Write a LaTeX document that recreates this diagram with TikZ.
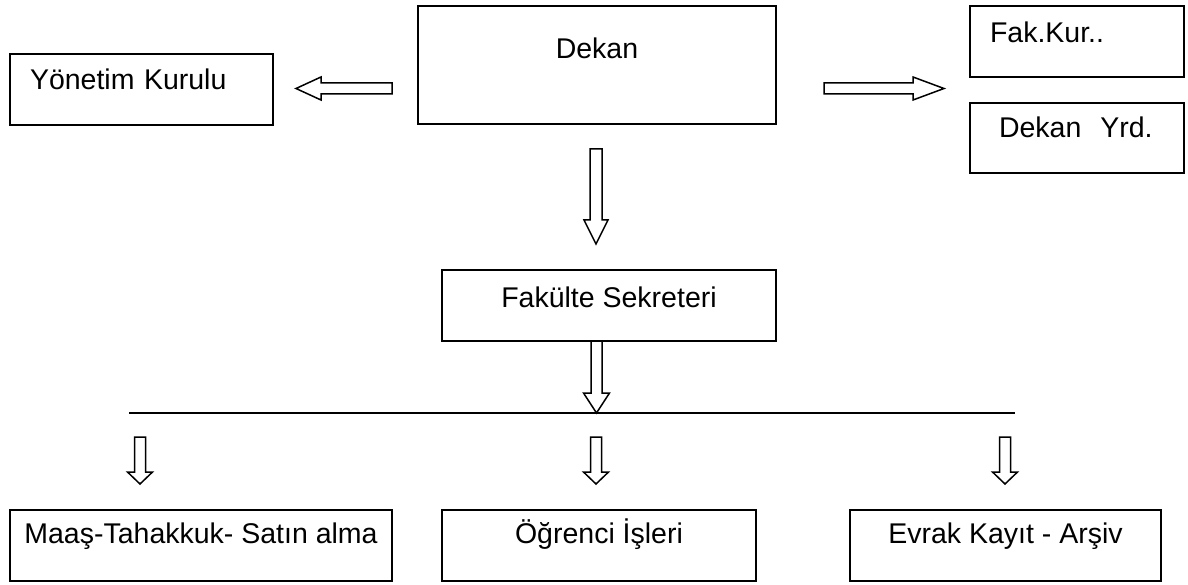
\documentclass[tikz,border=0pt]{standalone}
\usepackage{fontspec}
\setmainfont{Liberation Sans}
\usetikzlibrary{calc}
\newcommand{\myVArrow}[5]{\draw[blk] let \p1=(#1), \p2=(#2) in (\x1-#3,\y1) -- (\x1+#3,\y1) -- (\x1+#3,\y2+#5) -- (\x1+#4,\y2+#5) -- (\x1,\y2) -- (\x1-#4,\y2+#5) -- (\x1-#3,\y2+#5) -- cycle;}
\newcommand{\myHArrow}[5]{\draw[blk] let \p1=(#1), \p2=(#2) in (\x1,\y1+#3) -- (\x2#5,\y1+#3) -- (\x2#5,\y1+#4) -- (\x2,\y1) -- (\x2#5,\y1-#4) -- (\x2#5,\y1-#3) -- (\x1,\y1-#3) -- cycle;}
\begin{document}
\begin{tikzpicture}[x=1pt,y=-1pt,
  box/.style={draw=black, line width=2pt, rectangle, inner ysep=0pt, minimum height=0pt, anchor=north west, font=\fontsize{28.5}{34}\selectfont},
  lbox/.style={box, align=left},
  blk/.style={draw=black, line width=1.5pt, fill=white, line join=miter},
]
\useasboundingbox (0,0) rectangle (1188,585);

% boxes
\node[box, minimum width=358pt, text height=53pt, text depth=65pt] (dekan) at (417,5) {Dekan};
\node[lbox, inner xsep=20pt, text width=223pt, text height=36pt, text depth=35pt] (yk) at (9,53) {Yönetim Kurulu};
\node[lbox, inner xsep=20pt, text width=174pt, text height=37pt, text depth=34pt] (fk) at (969,5) {Fak.Kur..};
\node[lbox, inner xsep=29pt, text width=156pt, text height=35pt, text depth=35pt] (dy) at (969,102) {Dekan\ \ Yrd.};
\node[box, minimum width=334pt, text height=37pt, text depth=34pt] (fs) at (441,269) {Fakülte Sekreteri};
\node[box, minimum width=382pt, text height=33pt, text depth=38pt] (maas) at (9,509) {Maaş-Tahakkuk- Satın alma};
\node[box, minimum width=314pt, text height=33pt, text depth=38pt] (ogr) at (441,509) {Öğrenci İşleri};
\node[box, minimum width=311pt, text height=33pt, text depth=38pt] (evr) at (849,509) {Evrak Kayıt - Arşiv};

% arrow end points
\coordinate (lat) at (392,88.5);  \coordinate (lah) at (296,88.5);
\coordinate (rat) at (824,88.5);  \coordinate (rah) at (944,88.5);
\coordinate (d1t) at (596,149);   \coordinate (d1h) at (596,244);
\coordinate (d2t) at (596.5,341); \coordinate (d2h) at (596.5,413);
\coordinate (s1t) at (140,437);   \coordinate (s1h) at (140,484);
\coordinate (s2t) at (596,437);   \coordinate (s2h) at (596,484);
\coordinate (s3t) at (1005,437);  \coordinate (s3h) at (1005,484);
\coordinate (lineL) at (129,413); \coordinate (lineR) at (1015,413);

\draw[line width=2pt] (lineL) -- (lineR);

\myHArrow{lat}{lah}{5.5pt}{11.5pt}{+25pt}
\myHArrow{rat}{rah}{5.5pt}{11.5pt}{-31pt}
\myVArrow{d1t}{d1h}{6pt}{12pt}{24pt}
\myVArrow{d2t}{d2h}{5.5pt}{13pt}{20pt}
\myVArrow{s1t}{s1h}{5.5pt}{12.5pt}{12pt}
\myVArrow{s2t}{s2h}{5.5pt}{12.5pt}{12pt}
\myVArrow{s3t}{s3h}{5.5pt}{12.5pt}{12pt}
\end{tikzpicture}
\end{document}
